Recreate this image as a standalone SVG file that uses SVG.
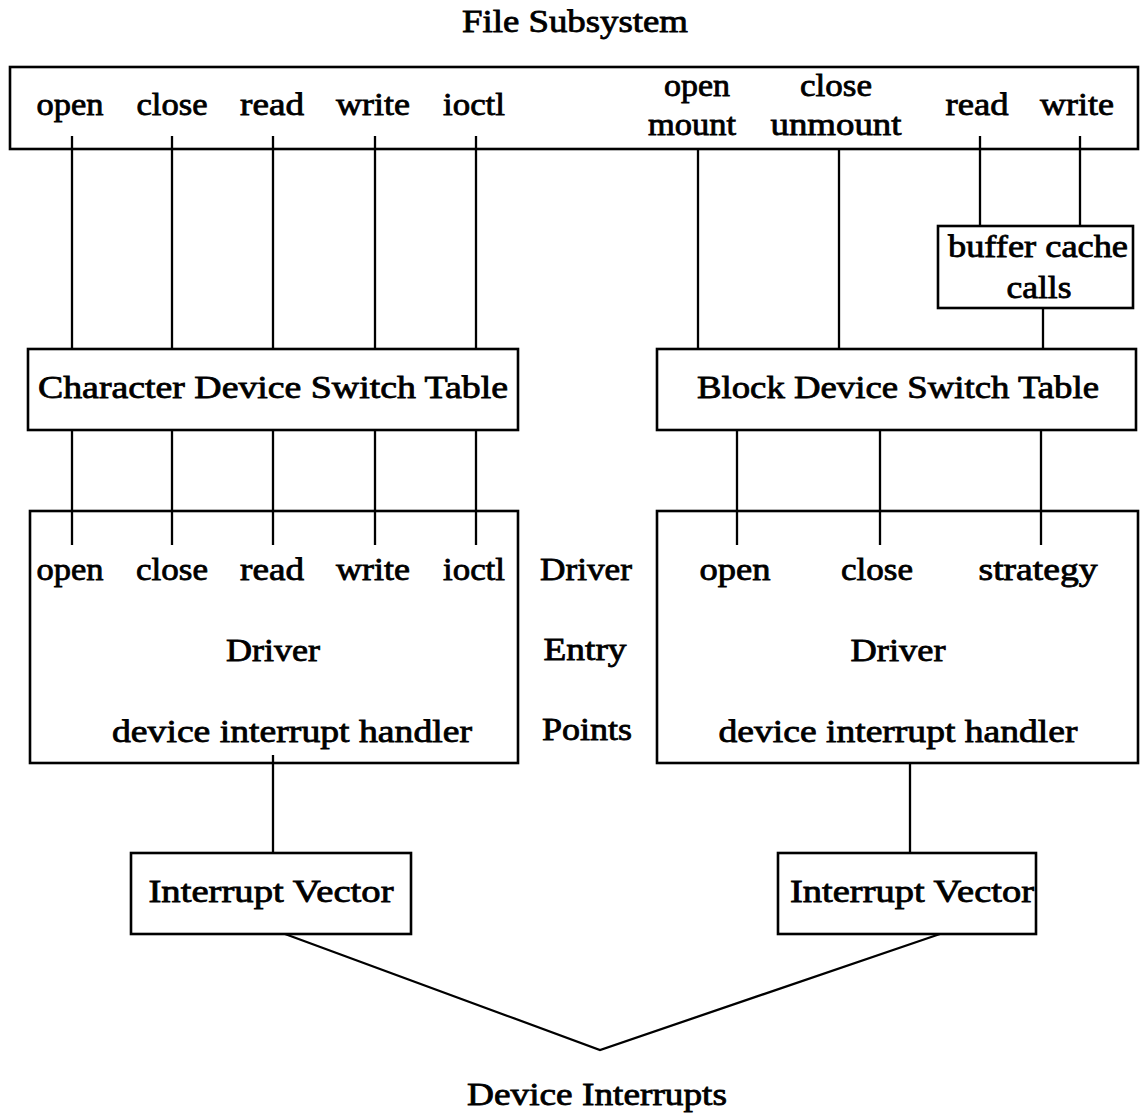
<svg xmlns="http://www.w3.org/2000/svg" width="1142" height="1113" viewBox="0 0 1142 1113">
<style>
text{font-family:"Liberation Serif","Times New Roman",serif;font-size:32px;fill:#000;stroke:#000;stroke-width:0.8;text-anchor:middle}
.box{fill:#fff;stroke:#000;stroke-width:2.6}
.open{fill:none;stroke:#000;stroke-width:2.6}
.ln{stroke:#000;stroke-width:2.3;fill:none}
</style>
<rect width="1142" height="1113" fill="#fff"/>
<g id="title"><text x="575" y="32" textLength="226" lengthAdjust="spacingAndGlyphs">File Subsystem</text></g>
<g id="file-subsystem">
<rect class="open" x="10" y="67" width="1128" height="82"/>
<text x="70" y="115" textLength="67" lengthAdjust="spacingAndGlyphs">open</text>
<text x="172" y="115" textLength="71" lengthAdjust="spacingAndGlyphs">close</text>
<text x="272" y="115" textLength="64" lengthAdjust="spacingAndGlyphs">read</text>
<text x="373" y="115" textLength="74" lengthAdjust="spacingAndGlyphs">write</text>
<text x="474" y="115" textLength="62" lengthAdjust="spacingAndGlyphs">ioctl</text>
<text x="697" y="96" textLength="66" lengthAdjust="spacingAndGlyphs">open</text>
<text x="692" y="135" textLength="88" lengthAdjust="spacingAndGlyphs">mount</text>
<text x="836" y="96" textLength="72" lengthAdjust="spacingAndGlyphs">close</text>
<text x="836" y="135" textLength="131" lengthAdjust="spacingAndGlyphs">unmount</text>
<text x="977" y="115" textLength="63" lengthAdjust="spacingAndGlyphs">read</text>
<text x="1077" y="115" textLength="74" lengthAdjust="spacingAndGlyphs">write</text>
</g>
<g id="buffer-cache">
<rect class="box" x="938" y="226" width="195" height="82"/>
<text x="1038" y="257" textLength="180" lengthAdjust="spacingAndGlyphs">buffer cache</text>
<text x="1039" y="298" textLength="65" lengthAdjust="spacingAndGlyphs">calls</text>
</g>
<g id="char-switch">
<rect class="box" x="28" y="349" width="490" height="81"/>
<text x="273" y="398" textLength="470" lengthAdjust="spacingAndGlyphs">Character Device Switch Table</text>
</g>
<g id="block-switch">
<rect class="box" x="657" y="349" width="479" height="81"/>
<text x="898" y="398" textLength="402" lengthAdjust="spacingAndGlyphs">Block Device Switch Table</text>
</g>
<g id="char-driver">
<rect class="open" x="30" y="511" width="488" height="252"/>
<text x="70" y="580" textLength="67" lengthAdjust="spacingAndGlyphs">open</text>
<text x="172" y="580" textLength="72" lengthAdjust="spacingAndGlyphs">close</text>
<text x="272" y="580" textLength="64" lengthAdjust="spacingAndGlyphs">read</text>
<text x="373" y="580" textLength="74" lengthAdjust="spacingAndGlyphs">write</text>
<text x="474" y="580" textLength="62" lengthAdjust="spacingAndGlyphs">ioctl</text>
<text x="273" y="661" textLength="94" lengthAdjust="spacingAndGlyphs">Driver</text>
<text x="292" y="742" textLength="360" lengthAdjust="spacingAndGlyphs">device interrupt handler</text>
</g>
<g id="entry-points">
<text x="586" y="580" textLength="92" lengthAdjust="spacingAndGlyphs">Driver</text>
<text x="585" y="660" textLength="83" lengthAdjust="spacingAndGlyphs">Entry</text>
<text x="587" y="740" textLength="90" lengthAdjust="spacingAndGlyphs">Points</text>
</g>
<g id="block-driver">
<rect class="open" x="657" y="511" width="481" height="252"/>
<text x="735" y="580" textLength="71" lengthAdjust="spacingAndGlyphs">open</text>
<text x="877" y="580" textLength="72" lengthAdjust="spacingAndGlyphs">close</text>
<text x="1038" y="580" textLength="119" lengthAdjust="spacingAndGlyphs">strategy</text>
<text x="898" y="661" textLength="95" lengthAdjust="spacingAndGlyphs">Driver</text>
<text x="898" y="742" textLength="359" lengthAdjust="spacingAndGlyphs">device interrupt handler</text>
</g>
<g id="iv-left">
<rect class="box" x="131" y="853" width="280" height="81"/>
<text x="271" y="902" textLength="245" lengthAdjust="spacingAndGlyphs">Interrupt Vector</text>
</g>
<g id="iv-right">
<rect class="box" x="778" y="853" width="258" height="81"/>
<text x="912" y="902" textLength="244" lengthAdjust="spacingAndGlyphs">Interrupt Vector</text>
</g>
<g id="device-interrupts"><text x="597" y="1105" textLength="260" lengthAdjust="spacingAndGlyphs">Device Interrupts</text></g>
<g id="connectors">
<line class="ln" x1="72" y1="136" x2="72" y2="349"/>
<line class="ln" x1="172" y1="136" x2="172" y2="349"/>
<line class="ln" x1="273" y1="136" x2="273" y2="349"/>
<line class="ln" x1="375" y1="136" x2="375" y2="349"/>
<line class="ln" x1="476" y1="136" x2="476" y2="349"/>
<line class="ln" x1="72" y1="430" x2="72" y2="545"/>
<line class="ln" x1="172" y1="430" x2="172" y2="545"/>
<line class="ln" x1="273" y1="430" x2="273" y2="545"/>
<line class="ln" x1="375" y1="430" x2="375" y2="545"/>
<line class="ln" x1="476" y1="430" x2="476" y2="545"/>
<line class="ln" x1="698" y1="149" x2="698" y2="349"/>
<line class="ln" x1="839" y1="149" x2="839" y2="349"/>
<line class="ln" x1="980" y1="136" x2="980" y2="226"/>
<line class="ln" x1="1080" y1="136" x2="1080" y2="226"/>
<line class="ln" x1="1043" y1="308" x2="1043" y2="349"/>
<line class="ln" x1="737" y1="430" x2="737" y2="545"/>
<line class="ln" x1="880" y1="430" x2="880" y2="545"/>
<line class="ln" x1="1041" y1="430" x2="1041" y2="545"/>
<line class="ln" x1="273" y1="755" x2="273" y2="853"/>
<line class="ln" x1="910" y1="763" x2="910" y2="853"/>
<polyline class="ln" points="285,934 600,1050 940,934" stroke-width="2.6"/>
</g>
</svg>
